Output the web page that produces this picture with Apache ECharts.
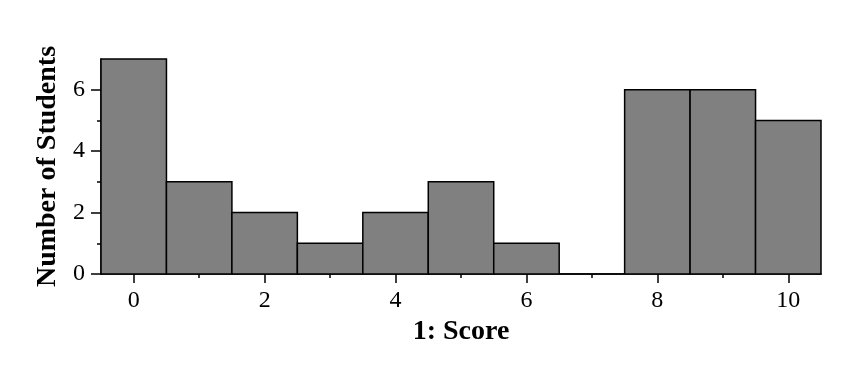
<!DOCTYPE html>
<html>
<head>
<meta charset="utf-8">
<script src="https://cdn.jsdelivr.net/npm/echarts@6/dist/echarts.min.js"></script>
<style>html,body{margin:0;padding:0;background:#fff;}#c{width:860px;height:367px;}</style>
</head>
<body>
<div id="c"></div>
<script>
const scores = [0, 1, 2, 3, 4, 5, 6, 7, 8, 9, 10];
const counts = [7, 3, 2, 1, 2, 3, 1, 0, 6, 6, 5];
const xMajorTicks = [0, 2, 4, 6, 8, 10];
const xMinorTicks = [1, 3, 5, 7, 9];
const yMajorTicks = [0, 2, 4, 6];
const yMinorTicks = [1, 3, 5];

const FONT = 'Liberation Serif';
const chart = echarts.init(document.getElementById('c'), null, {renderer: 'canvas'});
const data = scores.map((s, i) => [s, counts[i]]);

function tickAxis(min, max, pos, values, len) {
  return {
    type: 'value', min: min, max: max, position: pos, offset: 0,
    axisLine: {show: false, onZero: false},
    axisTick: {show: true, length: len, lineStyle: {color: '#000', width: 1.5}, customValues: values},
    axisLabel: {show: false},
    splitLine: {show: false}
  };
}

const option = {
  backgroundColor: '#fff',
  animation: false,
  grid: {left: 101, right: 39, top: 59, bottom: 93},
  xAxis: [
    {
      type: 'value', min: -0.5, max: 10.5,
      name: '1: Score', nameLocation: 'middle', nameGap: 41,
      nameTextStyle: {fontFamily: FONT, fontSize: 28, fontWeight: 'bold', color: '#000'},
      axisLine: {show: true, onZero: false, lineStyle: {color: '#000', width: 1.5}},
      axisTick: {show: false},
      axisLabel: {show: true, margin: 15, fontFamily: FONT, fontSize: 24, color: '#000', customValues: xMajorTicks},
      splitLine: {show: false}
    },
    tickAxis(-0.5, 10.5, 'bottom', xMajorTicks, 9),
    tickAxis(-0.5, 10.5, 'bottom', xMinorTicks, 4)
  ],
  yAxis: [
    {
      type: 'value', min: 0, max: 7,
      name: 'Number of Students', nameLocation: 'middle', nameGap: 39,
      nameTextStyle: {fontFamily: FONT, fontSize: 28, fontWeight: 'bold', color: '#000'},
      axisLine: {show: true, onZero: false, lineStyle: {color: '#000', width: 1.5}},
      axisTick: {show: false},
      axisLabel: {show: true, margin: 16, fontFamily: FONT, fontSize: 24, color: '#000', customValues: yMajorTicks},
      splitLine: {show: false}
    },
    tickAxis(0, 7, 'left', yMajorTicks, 10),
    tickAxis(0, 7, 'left', yMinorTicks, 4)
  ],
  series: [{
    type: 'custom',
    xAxisIndex: 0, yAxisIndex: 0,
    data: data,
    renderItem: function (params, api) {
      const x = api.value(0), y = api.value(1);
      const p0 = api.coord([x - 0.5, 0]);
      const p1 = api.coord([x + 0.5, y]);
      return {
        type: 'rect',
        shape: {x: p0[0], y: p1[1], width: p1[0] - p0[0], height: p0[1] - p1[1]},
        style: {fill: '#808080', stroke: '#000', lineWidth: 1.5}
      };
    }
  }]
};
chart.setOption(option);
</script>
</body>
</html>
